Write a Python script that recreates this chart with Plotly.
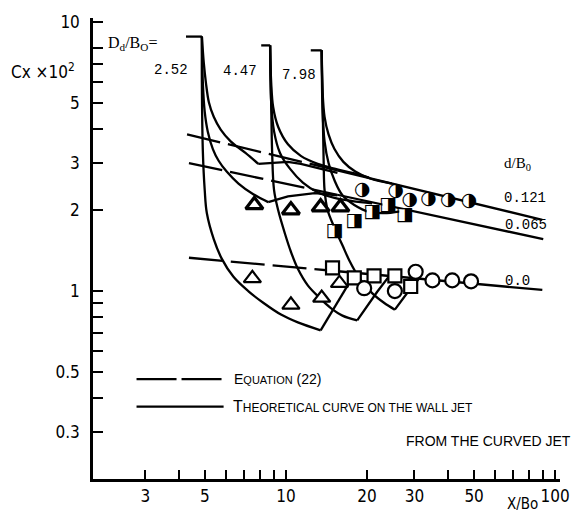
import plotly.graph_objects as go

# ---------------- data ----------------
x_tickvals = [3, 4, 5, 6, 7, 8, 9, 10, 20, 30, 40, 50, 60, 70, 80, 90, 100]
x_ticktext = ['3', '', '5', '', '', '', '', '10', '20', '30', '', '50', '', '', '', '', '100']
y_tickvals = [0.3, 0.4, 0.5, 0.6, 0.7, 0.8, 0.9, 1, 2, 3, 4, 5, 6, 7, 8, 10]
y_ticktext = ['0.3', '', '0.5', '', '', '', '', '1', '2', '3', '', '5', '', '', '', '10']

dd_labels = ['2.52', '4.47', '7.98']
dB_labels = ['0.121', '0.065', '0.0']

# Equation (22) lines: dashed part and solid part
eq121_dash_x = [4.29, 15.5];  eq121_dash_y = [3.82, 2.81]
eq121_sol_x = [15.5, 89.6];   eq121_sol_y = [2.81, 1.84]
eq065_dash_x = [4.36, 15.5];  eq065_dash_y = [2.99, 2.28]
eq065_sol_x = [15.5, 90.3];   eq065_sol_y = [2.28, 1.56]
eq0_dash_x = [4.36, 14.9];    eq0_dash_y = [1.33, 1.19]
eq0_sol_x = [14.9, 89.6];     eq0_sol_y = [1.19, 1.01]

# Theoretical curves, Dd/B0 = 2.52
f1_brk_x = [4.25, 4.87]; f1_brk_y = [8.82, 8.82]
f1_c_x = [4.87, 4.87, 4.91, 4.99, 5.08, 5.39, 5.77, 6.38, 7.24, 8.23, 9.58, 11.07, 13.45]
f1_c_y = [8.82, 5.95, 3.31, 2.37, 1.95, 1.56, 1.32, 1.13, 1.00, 0.905, 0.818, 0.765, 0.715]
f1_cr_x = [13.45, 14.89, 16.49, 17.94]; f1_cr_y = [0.715, 0.846, 1.008, 1.153]
f1_a_x = [4.87, 4.95, 5.04, 5.17, 5.39, 5.72, 6.23, 7.07, 7.89]
f1_a_y = [8.82, 7.04, 5.95, 5.03, 4.44, 3.98, 3.60, 3.26, 2.97]
f1_ar_x = [7.89, 8.81, 10.17, 11.35, 13.11, 15.53]; f1_ar_y = [2.97, 2.99, 3.02, 2.97, 2.87, 2.75]
f1_b_x = [4.87, 4.91, 4.99, 5.12, 5.35, 5.62, 6.02, 6.66, 7.56, 8.59]
f1_b_y = [8.82, 5.95, 4.63, 3.92, 3.37, 3.05, 2.78, 2.51, 2.29, 2.14]
f1_br_x = [8.59, 10.17, 12.79, 15.53]; f1_br_y = [2.14, 2.25, 2.31, 2.27]

# Dd/B0 = 4.47
f2_brk_x = [8.09, 8.73]; f2_brk_y = [8.18, 8.18]
f2_c_x = [8.73, 8.81, 8.88, 9.03, 9.35, 9.92, 10.43, 11.07, 12.05, 13.34, 14.64, 16.21, 18.39]
f2_c_y = [8.18, 5.03, 3.31, 2.37, 2.00, 1.63, 1.40, 1.21, 1.05, 0.943, 0.867, 0.811, 0.778]
f2_cr_x = [18.39, 20.03, 21.79, 24.13]; f2_cr_y = [0.778, 0.882, 0.992, 1.134]
f2_a_x = [8.73, 8.81, 8.96, 9.35, 10.17, 11.35, 13.11, 15.14, 17.63, 20.36]
f2_a_y = [8.18, 5.95, 4.83, 4.08, 3.51, 3.18, 2.97, 2.85, 2.75, 2.64]
f2_b_x = [8.73, 8.81, 9.03, 9.50, 10.34, 11.55, 13.11, 15.14, 17.63, 20.89]
f2_b_y = [8.18, 5.03, 3.92, 3.26, 2.85, 2.53, 2.33, 2.22, 2.16, 2.12]

# Dd/B0 = 7.98
f3_brk_x = [12.36, 13.57]; f3_brk_y = [7.84, 7.84]
f3_c_x = [13.57, 13.68, 13.80, 13.91, 14.27, 15.14, 16.21, 17.19, 18.71, 20.89, 23.12, 25.38]
f3_c_y = [7.84, 5.03, 3.05, 2.37, 2.00, 1.72, 1.48, 1.30, 1.12, 0.983, 0.905, 0.853]
f3_cr_x = [25.38, 27.16, 29.06, 31.09]; f3_cr_y = [0.853, 0.935, 1.025, 1.106]
f3_a_x = [13.57, 13.68, 13.91, 14.39, 15.14, 16.34, 18.09, 20.54, 24.74]
f3_a_y = [7.84, 5.47, 4.44, 3.82, 3.37, 3.02, 2.78, 2.62, 2.51]
f3_b_x = [13.57, 13.68, 13.91, 14.39, 15.14, 16.21, 17.94, 20.36, 23.71, 28.08]
f3_b_y = [7.84, 4.63, 3.60, 2.99, 2.58, 2.27, 2.09, 1.97, 1.95, 2.00]

# Experimental points
tri_up_x = [7.63, 10.43, 13.45, 15.93];  tri_up_y = [2.09, 2.00, 2.05, 2.05]
tri_lo_x = [7.50, 10.43, 13.57, 15.80];  tri_lo_y = [1.115, 0.889, 0.943, 1.07]
sq_half_x = [15.14, 17.94, 20.89, 23.91, 27.62]; sq_half_y = [1.67, 1.81, 1.97, 2.09, 1.92]
circ_half_x = [19.19, 25.59, 28.82, 33.84, 40.09, 47.86]; circ_half_y = [2.37, 2.35, 2.18, 2.20, 2.18, 2.16]
sq_open_x = [14.89, 17.94, 21.24, 25.38, 29.06]; sq_open_y = [1.22, 1.12, 1.14, 1.14, 1.04]
circ_open_x = [19.52, 25.38, 30.32, 35.01, 41.46, 48.70]; circ_open_y = [1.025, 1.0, 1.18, 1.096, 1.096, 1.087]

# ---------------- figure ----------------
fig = go.Figure()
LW = 2.3

def add_line(x, y, dash='solid', shape='linear'):
    fig.add_trace(go.Scatter(x=x, y=y, mode='lines',
                             line=dict(color='black', width=LW, dash=dash, shape=shape, smoothing=1.0),
                             hoverinfo='skip', showlegend=False))

DASH = '34px,8px'
add_line(eq121_dash_x, eq121_dash_y, DASH); add_line(eq121_sol_x, eq121_sol_y)
add_line(eq065_dash_x, eq065_dash_y, DASH); add_line(eq065_sol_x, eq065_sol_y)
add_line(eq0_dash_x, eq0_dash_y, DASH);     add_line(eq0_sol_x, eq0_sol_y)

for bx, by in [(f1_brk_x, f1_brk_y), (f2_brk_x, f2_brk_y), (f3_brk_x, f3_brk_y)]:
    add_line(bx, by)
for cx, cy in [(f1_c_x, f1_c_y), (f1_a_x, f1_a_y), (f1_b_x, f1_b_y),
               (f2_c_x, f2_c_y), (f2_a_x, f2_a_y), (f2_b_x, f2_b_y),
               (f3_c_x, f3_c_y), (f3_a_x, f3_a_y), (f3_b_x, f3_b_y)]:
    add_line(cx, cy, shape='spline')
for rx, ry in [(f1_cr_x, f1_cr_y), (f1_ar_x, f1_ar_y), (f1_br_x, f1_br_y),
               (f2_cr_x, f2_cr_y), (f3_cr_x, f3_cr_y)]:
    add_line(rx, ry)

def add_markers(x, y, symbol, size, lw):
    fig.add_trace(go.Scatter(x=x, y=y, mode='markers',
                             marker=dict(symbol=symbol, size=size, color='white',
                                         line=dict(color='black', width=lw)),
                             hoverinfo='skip', showlegend=False))

add_markers(tri_up_x, tri_up_y, 'triangle-up', 15, 3.2)
add_markers(tri_lo_x, tri_lo_y, 'triangle-up', 15, 2.2)
add_markers(sq_open_x, sq_open_y, 'square', 13, 2.2)
add_markers(circ_open_x, circ_open_y, 'circle', 14, 2.2)
# white backing for the half-filled symbols, then the glyphs themselves
add_markers(sq_half_x, sq_half_y, 'square', 11, 0)
add_markers(circ_half_x, circ_half_y, 'circle', 12, 0)
fig.add_trace(go.Scatter(x=sq_half_x, y=sq_half_y, mode='text', text=['\u25E8'] * len(sq_half_x),
                         textposition='middle center',
                         textfont=dict(family='DejaVu Sans', size=19, color='black'),
                         hoverinfo='skip', showlegend=False))
fig.add_trace(go.Scatter(x=circ_half_x, y=circ_half_y, mode='text', text=['\u25D1'] * len(circ_half_x),
                         textposition='middle center',
                         textfont=dict(family='DejaVu Sans', size=19, color='black'),
                         hoverinfo='skip', showlegend=False))

# ---------------- layout ----------------
L, R, T, B = 93, 17, 14, 33
W, H = 582, 518
def pp(xp, yp):
    return (xp - L) / (W - L - R), (H - B - yp) / (H - T - B)

TICKFONT = dict(family='Liberation Sans Narrow, DejaVu Sans Condensed, Liberation Sans, sans-serif',
                size=17, color='black')
axis_common = dict(type='log', showline=True, linecolor='black', linewidth=2.5,
                   ticks='inside', tickwidth=2, tickcolor='black', showgrid=False,
                   zeroline=False, mirror=False, tickfont=TICKFONT)
fig.update_layout(
    width=W, height=H, margin=dict(l=L, r=R, t=T, b=B),
    paper_bgcolor='white', plot_bgcolor='white', showlegend=False,
    xaxis=dict(range=[0.283, 2.018], tickvals=x_tickvals, ticktext=x_ticktext, ticklen=9, **axis_common),
    yaxis=dict(range=[-0.698, 1.0145], tickvals=y_tickvals, ticktext=y_ticktext, ticklen=10,
               ticklabelstandoff=7, **axis_common),
)

ann = []
def text(xp, yp, s, size=14, family='Liberation Sans', xanchor='center'):
    x, y = pp(xp, yp)
    ann.append(dict(x=x, y=y, xref='paper', yref='paper', text=s, showarrow=False,
                    xanchor=xanchor, yanchor='middle',
                    font=dict(family=family, size=size, color='black')))

MONO = 'Liberation Mono, DejaVu Sans Mono, monospace'
SERIF = 'Liberation Serif, DejaVu Serif, serif'
text(133, 40, 'D<sub>d</sub>/B<sub>O</sub>=', 16, SERIF)
text(172, 67, dd_labels[0], 14, MONO)
text(242, 68, dd_labels[1], 14, MONO)
text(301, 72, dd_labels[2], 14, MONO)
text(42, 68, 'Cx \u00d710<sup>2</sup>', 17, TICKFONT['family'])
text(522, 163, 'd/B<sub>0</sub>', 15, SERIF)
text(530, 198, dB_labels[0], 14, MONO)
text(531, 226, dB_labels[1], 14, MONO)
text(522, 283, dB_labels[2], 14, MONO)
text(527, 511, 'X/Bo', 15, TICKFONT['family'])
SC = 'Liberation Sans, DejaVu Sans, sans-serif'
text(233, 383, "E<span style='font-size:11px'>QUATION</span> (22)", 14, SC, 'left')
text(232, 411, "T<span style='font-size:12px'>HEORETICAL CURVE ON THE WALL JET</span>", 16, SC, 'left')
text(407, 446, 'FROM THE CURVED JET', 14, SC, 'left')
fig.update_layout(annotations=ann)

shapes = []
for (x0p, x1p, yp, dash) in [(137, 223, 383, '40px,5px'), (137, 225, 411, 'solid')]:
    a0, b0 = pp(x0p, yp); a1, _ = pp(x1p, yp)
    shapes.append(dict(type='line', xref='paper', yref='paper', x0=a0, x1=a1, y0=b0, y1=b0,
                       line=dict(color='black', width=2.2, dash=dash)))
fig.update_layout(shapes=shapes)

fig.write_html('out.html')
